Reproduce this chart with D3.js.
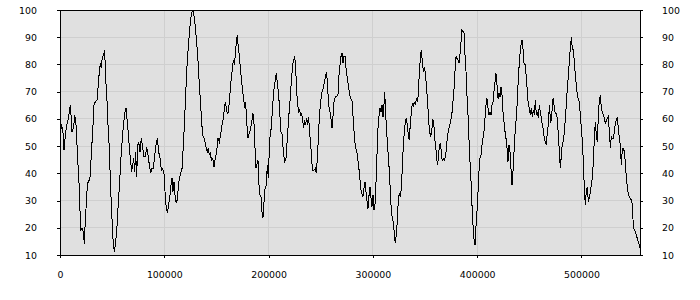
<!DOCTYPE html>
<html>
<head>
<meta charset="utf-8">
<script src="https://cdn.jsdelivr.net/npm/d3@7"></script>
<style>
  body { margin: 0; background: #fff; }
  svg { display: block; }
  .tick text { font-family: "DejaVu Sans", Verdana, sans-serif; font-size: 9.4px; fill: #000; }
</style>
</head>
<body>
<script>
// series: [x, value]
const seriesA = [
  [0,60],[600,60.2],[1300,56.5],[2600,57],[3800,48.5],[5100,54],[6400,57.8],[7700,59.6],[8900,62.6],[9900,65],
  [10900,59.6],[11500,55.3],[12800,56.5],[14100,60.8],[15000,60.2],[16000,52.9],[17300,43],[18500,34.5],[19200,25.9],[19800,19.2],
  [21100,19.8],[22400,18.6],[23300,13.9],[24300,23.4],[25600,30.8],[26200,36.3],[27500,36.9],[28800,38.8],[30000,46.7],[31300,55.3],
  [32600,65.1],[33900,66.3],[35500,66.9],[36400,71.2],[37700,77.3],[38700,80.4],[39600,78.6],[40600,82.9],[41900,83.5],[42800,85.3],
  [43800,74.9],[45100,66.3],[46300,55.3],[47300,49.2],[48300,36.9],[49500,25.9],[50800,16.1],[52100,11.2],[53400,14.9],[54700,21],
  [55900,29],[57200,36.9],[58500,46.1],[59800,52.9],[61000,58.4],[62300,62.6],[63300,63.9],[64200,60.2],[65500,54.7],[66500,49.2],
  [67800,44.3],[68700,40.6],[69700,43],[70600,45.5],[71600,40.6],[72500,47.9],[73500,38.8],[74500,50.4],[75400,51.6],[76700,47.9],
  [78000,52.9],[79300,49.2],[80500,46.1],[81800,46.1],[83100,49.8],[84400,46.7],[85700,43],[86900,40],[88200,41.8],[89500,41.8],
  [90800,46.7],[92000,50.4],[93300,52.9]
];
const seriesB = [
  [94600,47.9],[95900,45.5],[97200,41.2],[98400,41.8],[99700,40],[100700,33.3],[101600,28.4],[102900,25.3],[104200,28.4],[105500,32.1],
  [106400,35.7],[107400,38.2],[108300,33.3],[109300,36.9],[110600,30.2],[111900,29],[113100,33.3],[114400,38.2],[115700,40],[117000,41.8],
  [118300,50.4],[119500,60.2],[120500,68.8],[121400,77.3],[122700,84.7],[124000,91.4],[125300,96.9],[126600,99.4],[127800,99.6],[129100,96.3],
  [130400,90.8],[131700,84.7],[132600,79.8],[133600,72.5],[134900,65.1],[135800,59],[136800,54.1],[138100,52.9],[139300,51],[140300,49.2],
  [141300,47.9],[142200,49.2],[143200,46.7],[144100,47.9],[145100,44.9],[146400,45.5],[147700,42.4],[148900,45.5],[150200,47.9],[151500,52.9],
  [152800,51.6],[154000,54.1],[155300,57.8],[156600,60.2],[157900,65.1],[158800,66.3],[159800,62.6],[161100,62],[162400,66.3],[163600,72.5],
  [164900,77.3],[166200,81.6],[167200,79.8],[168100,83.5],[169100,88.4],[170000,90.8],[171000,85.9],[171900,83.5],[173200,77.3],[174500,72.5],
  [175800,68.2],[177100,63.9],[178000,66.3],[179000,59],[180300,52.9],[181500,54.7],[182800,56.5],[184100,59.6],[185000,62],[186000,58.4],
  [187000,49.2],[187900,41.8]
];
const seriesC = [
  [189800,44.9],[190800,35.7],[191800,32.1],[192700,31.4],[193700,25.9],[194600,23.5],[195600,29.6],[196600,34.5],[197800,35.7],[198800,43],
  [199800,38.2],[200700,49.2],[201700,55.3],[202600,56.5],[203900,65.1],[205200,71.2],[206500,74.3],[207400,76.7],[208400,73.1],[209700,68.8],
  [210600,62.6],[211900,55.3],[213200,54.1],[214100,47.9],[215400,44.3],[216700,45.5],[218000,52.9],[219200,60.2],[220500,66.3],[221800,73.7],
  [223100,79.8],[224000,81.6],[225000,82.9],[226000,78.6],[226900,70],[227900,65.1],[228800,62.6],[229800,63.3],[230800,61.4],[231700,62],
  [232700,59.6],[233600,56.5],[234600,59.6],[235500,57.8],[236500,60.2],[237500,57.8],[238400,60.8],[239400,54.1],[240300,51.6],[241300,44.3],
  [242300,41.2],[243500,41.2],[244800,41.8],[245800,40],[246700,45.5],[247700,52.9],[248600,60.2],[249900,66.3],[251200,70],[252500,71.2],
  [253400,73.7],[254400,74.9],[255400,77.3],[256300,73.7],[257600,65.1],[258900,62.6],[259800,60.2],[260800,56.5],[261800,61.4],[262700,66.3],
  [264000,68.2],[265300,68.2],[266500,68.8],[267500,76.1],[268500,79.8],[269400,82.9],[270400,84.1],[271300,80.4],[272300,82.9],[273300,82.9],
  [274200,78.6],[275500,74.9],[276800,71.2],[278100,68.2],[279300,66.9],[280300,66.3],[281200,59]
];
const seriesD = [
  [282500,52.9],[283200,49.2],[284400,48.6],[285400,45.5],[286400,42.4],[287300,39.4],[288300,34.5],[289200,32.7],[290500,31.4],[291500,34.5],
  [292400,36.9],[293400,33.3],[294400,29.6],[295300,27.1],[296300,32],[297200,35.1],[298200,30.8],[299100,27.8],[300100,32],[301100,26.5],
  [302000,28.4],[303000,36.9],[303900,46.7],[304900,56.5],[305900,61.4],[306800,63.9],[307800,62.6],[308700,65.1],[309700,60.8],[310700,65.7],
  [311300,70],[312300,61.4],[313200,55.3],[314500,47.9],[315800,40.6],[316700,33.3],[317700,25.9],[318600,23.5],[319600,22.2],[320600,17.3],
  [321500,14.3],[322500,18],[323400,22.2],[324400,30.8],[325400,32.7],[326300,31.4],[327300,34.5],[328200,41.8],[329200,50.4],[330100,55.3],
  [331100,59],[332100,60.2],[333000,57.8],[334000,54.1],[334900,52.2],[335900,58.4],[336900,62.6],[337800,65.7],[338800,64.5],[339700,66.3],
  [340700,65.1],[341700,67.5],[342600,66.3],[343600,68.8],[344500,77.3],[345500,82.2],[346400,85.3],[347400,81],[348400,77.3],[349300,78.6],
  [350300,77.3],[351200,72.5],[352500,66.3],[353500,59],[354400,55.3],[355400,53.5],[356400,55.3],[357300,59.6],[358300,59],[359200,52.9],
  [360200,50.4],[361100,45.5],[362100,43],[363100,47.9],[364000,50.4],[365000,51],[365900,45.5],[366900,44.9],[367900,45.5],[368800,44.9],
  [369800,46.7],[370700,50.4],[371700,54.1],[372700,56.5],[373600,57.1],[374600,59.6],[375500,60.8]
];
const seriesE = [
  [376500,65.1],[377800,71.2],[378700,77.3],[379700,82.9],[380600,82.2],[381600,81.6],[382600,80.4],[383500,83.5],[384500,88.4],[385400,92.7],
  [386400,92.1],[387400,91.5],[388300,83.5],[389300,77.3],[390200,68.8],[391200,61.4],[392100,52.9],[393100,44.3],[394100,36.9],[395000,28.4],
  [396000,21],[396900,16.1],[397900,13.7],[398900,21],[399800,25.9],[400800,33.3],[401700,40.6],[402700,45.5],[403700,46.7],[404600,50.4],
  [405600,52.9],[406500,55.3],[407500,60.2],[408400,65.1],[409400,67.5],[410400,63.9],[411300,61.4],[412300,62.6],[413200,61.4],[414200,65.1],
  [415200,66.3],[416100,70],[417100,73.7],[418000,76.7],[419000,72.5],[420000,67.5],[420900,69.4],[421900,68.2],[422800,71.8],[423800,68.8],
  [424700,62.6],[425700,59],[426700,55.3],[427600,52.9],[428600,49.2],[429500,44.3],[430500,50.4],[431500,47.9],[432400,41.8],[433400,35.7],
  [434300,40.6],[435300,47.9],[436600,56.5],[437900,62.6],[438800,70],[439800,77.3],[441000,83.5],[442000,87.1],[443000,89],[443900,85.9],
  [444900,80.4],[446200,79.8],[447100,74.9],[448100,70],[449000,65.1],[450000,63.9],[451000,61.4],[451900,63.9],[452900,60.8],[453800,63.3],
  [454800,61.4],[455800,66.9],[456700,61.4],[457700,62.6],[458600,60.2],[459600,65.1],[460500,62.6],[461500,60.2],[462500,57.8],[463400,55.9],
  [464400,52.9],[465300,51.6],[466300,50.4],[467300,55.3],[468200,57.8],[469200,65.1]
];
const seriesF = [
  [470500,58.4],[471700,62.6],[472700,67.5],[473600,65.1],[474600,62.6],[475600,62],[476800,60.2],[477800,54.1],[478800,48],[479700,41.8],
  [480700,46.7],[481600,51],[482600,51.6],[483600,55.3],[484500,60.2],[485500,65.1],[486400,71.2],[487400,75.5],[488300,81],[489300,85.9],
  [490300,90.2],[491200,85.9],[492200,85.3],[493100,81],[494100,76.1],[495100,72.4],[496000,68.8],[497000,66.9],[497900,66.3],[498900,61.4],
  [499900,56.5],[500800,51.6],[501800,44.3],[502700,34.5],[503700,28.4],[504600,33.3],[505600,35.1],[506600,29.6],[507500,30.8],[508500,33.3],
  [509400,35.7],[510400,38.2],[511400,44.3],[512300,52.9],[513300,59],[514200,54.1],[515200,51.6],[516200,61.4],[517100,66.9],[518100,68.8],
  [519000,63.9],[520000,62.6],[520900,61.4],[521900,60.2],[522900,58.4],[523800,59],[524800,60.2],[525700,60.8],[526700,55.3],[527700,49.2],
  [528600,53.5],[529600,52.9],[530500,52.9],[531500,55.3],[532500,58.4],[533400,59.6],[534400,60.8],[535300,56.5],[536300,52.9],[537200,50.4],
  [538200,43],[539200,49.2],[540100,49.2],[541100,48],[542000,44.3],[543000,38.2],[544000,35.1],[544900,32],[545900,31.4],[546800,30.8],
  [547800,30.2],[548800,28.4],[549700,20.4],[550700,19.2],[551600,18.6],[552600,17.3],[553500,16.1],[554500,14.9],[555500,13.7],[556100,12.5]
];

const xTicks = [0, 100000, 200000, 300000, 400000, 500000];
const yTicks = [10, 20, 30, 40, 50, 60, 70, 80, 90, 100];

const data = [].concat(seriesA, seriesB, seriesC, seriesD, seriesE, seriesF);

const width = 700, height = 300;
const margin = {top: 10, right: 60, bottom: 45, left: 60};

const svg = d3.select('body').append('svg')
  .attr('width', width)
  .attr('height', height);

const x = d3.scaleLinear()
  .domain([0, d3.max(data, d => d[0])])
  .range([margin.left, width - margin.right]);

const y = d3.scaleLinear()
  .domain([10, 100])
  .range([height - margin.bottom, margin.top]);

// plot background
svg.append('rect')
  .attr('x', margin.left)
  .attr('y', margin.top)
  .attr('width', width - margin.left - margin.right)
  .attr('height', height - margin.top - margin.bottom)
  .attr('fill', '#e0e0e0');

// grid
const grid = svg.append('g').attr('shape-rendering', 'crispEdges');
grid.selectAll('line.h').data(yTicks.slice(1, -1)).enter().append('line')
  .attr('class', 'h')
  .attr('x1', margin.left).attr('x2', width - margin.right)
  .attr('y1', d => y(d)).attr('y2', d => y(d))
  .attr('stroke', '#cfcfcf');
grid.selectAll('line.v').data(xTicks.slice(1)).enter().append('line')
  .attr('class', 'v')
  .attr('y1', margin.top).attr('y2', height - margin.bottom)
  .attr('x1', d => x(d)).attr('x2', d => x(d))
  .attr('stroke', '#cfcfcf');

// line
const line = d3.line()
  .x(d => x(d[0]))
  .y(d => y(d[1]));

svg.append('path')
  .datum(data)
  .attr('d', line)
  .attr('fill', 'none')
  .attr('stroke', '#000')
  .attr('stroke-width', 1)
  .attr('shape-rendering', 'crispEdges');

// axes
const axisLeft = d3.axisLeft(y).tickValues(yTicks).tickSize(3).tickPadding(20);
const axisRight = d3.axisRight(y).tickValues(yTicks).tickSize(3).tickPadding(19);
const axisBottom = d3.axisBottom(x).tickValues(xTicks).tickSize(3).tickPadding(13).tickFormat(d3.format('d'));

function style(g) {
  g.attr('shape-rendering', 'crispEdges');
  g.select('.domain').remove();
  g.selectAll('.tick line').attr('stroke', '#000');
}

svg.append('g')
  .attr('transform', `translate(${margin.left},0)`)
  .call(axisLeft).call(style);
svg.append('g')
  .attr('transform', `translate(${width - margin.right},0)`)
  .call(axisRight).call(style);
svg.append('g')
  .attr('transform', `translate(0,${height - margin.bottom})`)
  .call(axisBottom).call(style);

// frame
svg.append('rect')
  .attr('x', margin.left)
  .attr('y', margin.top)
  .attr('width', width - margin.left - margin.right)
  .attr('height', height - margin.top - margin.bottom)
  .attr('fill', 'none')
  .attr('stroke', '#000')
  .attr('shape-rendering', 'crispEdges');
</script>
</body>
</html>
